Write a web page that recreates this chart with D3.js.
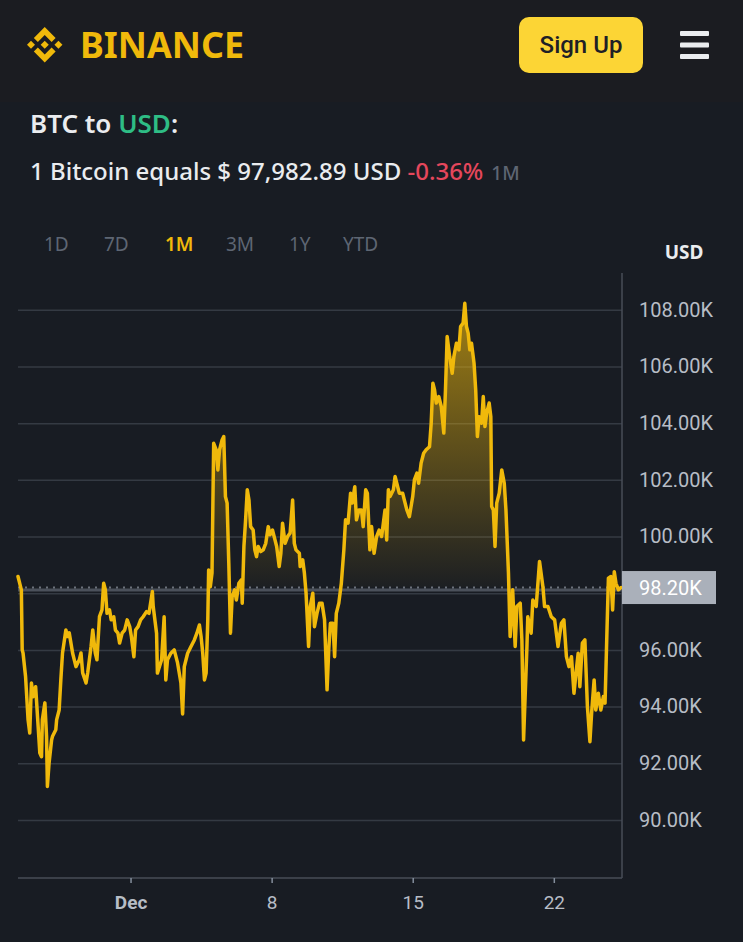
<!DOCTYPE html>
<html>
<head>
<meta charset="utf-8">
<script src="https://cdn.jsdelivr.net/npm/d3@7"></script>
<style>
  html, body { margin: 0; padding: 0; background: #181c23; }
  svg { display: block; }
</style>
</head>
<body>
<svg id="page" width="743" height="942"></svg>
<script>
// ---- data ----
var times = [
  "2024-11-25T10","2024-11-25T14","2024-11-25T15","2024-11-25T16","2024-11-25T19","2024-11-25T22",
  "2024-11-26T00","2024-11-26T02","2024-11-26T04","2024-11-26T07","2024-11-26T10","2024-11-26T12",
  "2024-11-26T14","2024-11-26T15","2024-11-26T18","2024-11-26T20","2024-11-26T21","2024-11-26T23",
  "2024-11-27T02","2024-11-27T03","2024-11-27T07","2024-11-27T08","2024-11-27T11","2024-11-27T13",
  "2024-11-27T15","2024-11-27T19","2024-11-27T21","2024-11-27T23","2024-11-28T03","2024-11-28T07",
  "2024-11-28T11","2024-11-28T13","2024-11-28T15","2024-11-28T19","2024-11-28T21","2024-11-29T01",
  "2024-11-29T03","2024-11-29T06","2024-11-29T08","2024-11-29T11","2024-11-29T14","2024-11-29T16",
  "2024-11-29T18","2024-11-29T20","2024-11-29T23","2024-11-30T01","2024-11-30T04","2024-11-30T06",
  "2024-11-30T09","2024-11-30T11","2024-11-30T14","2024-11-30T17","2024-11-30T20","2024-11-30T23",
  "2024-12-01T01","2024-12-01T04","2024-12-01T06","2024-12-01T09","2024-12-01T12","2024-12-01T15",
  "2024-12-01T19","2024-12-01T22","2024-12-02T02","2024-12-02T03","2024-12-02T07","2024-12-02T08",
  "2024-12-02T13","2024-12-02T16","2024-12-02T18","2024-12-02T20","2024-12-03T00","2024-12-03T04",
  "2024-12-03T08","2024-12-03T12","2024-12-03T14","2024-12-03T16","2024-12-03T20","2024-12-04T00",
  "2024-12-04T04","2024-12-04T07","2024-12-04T10","2024-12-04T12","2024-12-04T14","2024-12-04T16",
  "2024-12-04T18","2024-12-04T20","2024-12-04T21","2024-12-04T23","2024-12-05T01","2024-12-05T03",
  "2024-12-05T06","2024-12-05T08","2024-12-05T10","2024-12-05T13","2024-12-05T15","2024-12-05T17",
  "2024-12-05T19","2024-12-05T21","2024-12-05T23","2024-12-06T01","2024-12-06T04","2024-12-06T06",
  "2024-12-06T09","2024-12-06T12","2024-12-06T13","2024-12-06T15","2024-12-06T17","2024-12-06T19",
  "2024-12-06T21","2024-12-06T23","2024-12-07T02","2024-12-07T04","2024-12-07T06","2024-12-07T08",
  "2024-12-07T11","2024-12-07T14","2024-12-07T17","2024-12-07T20","2024-12-07T22","2024-12-08T01",
  "2024-12-08T04","2024-12-08T06","2024-12-08T09","2024-12-08T11","2024-12-08T13","2024-12-08T16",
  "2024-12-08T19","2024-12-08T22","2024-12-09T01","2024-12-09T03","2024-12-09T05","2024-12-09T09",
  "2024-12-09T10","2024-12-09T13","2024-12-09T15","2024-12-09T17","2024-12-09T20","2024-12-09T22",
  "2024-12-10T01","2024-12-10T03","2024-12-10T06","2024-12-10T09","2024-12-10T12","2024-12-10T15",
  "2024-12-10T18","2024-12-10T20","2024-12-10T22","2024-12-11T01","2024-12-11T03","2024-12-11T05",
  "2024-12-11T08","2024-12-11T11","2024-12-11T14","2024-12-11T16","2024-12-11T19","2024-12-11T22",
  "2024-12-12T00","2024-12-12T03","2024-12-12T05","2024-12-12T08","2024-12-12T11","2024-12-12T13",
  "2024-12-12T16","2024-12-12T18","2024-12-12T21","2024-12-12T23","2024-12-13T02","2024-12-13T05",
  "2024-12-13T08","2024-12-13T11","2024-12-13T13","2024-12-13T15","2024-12-13T17","2024-12-13T19",
  "2024-12-13T21","2024-12-14T01","2024-12-14T03","2024-12-14T05","2024-12-14T08","2024-12-14T12",
  "2024-12-14T14","2024-12-14T17","2024-12-14T20","2024-12-15T00","2024-12-15T02","2024-12-15T05",
  "2024-12-15T07","2024-12-15T10","2024-12-15T13","2024-12-15T16","2024-12-15T20","2024-12-15T22",
  "2024-12-16T00","2024-12-16T02","2024-12-16T04","2024-12-16T07","2024-12-16T10","2024-12-16T13",
  "2024-12-16T15","2024-12-16T17","2024-12-16T20","2024-12-16T23","2024-12-17T01","2024-12-17T04",
  "2024-12-17T07","2024-12-17T09","2024-12-17T12","2024-12-17T14","2024-12-17T16","2024-12-17T18",
  "2024-12-17T20","2024-12-17T22","2024-12-18T01","2024-12-18T03","2024-12-18T05","2024-12-18T07",
  "2024-12-18T10","2024-12-18T12","2024-12-18T14","2024-12-18T16","2024-12-18T19","2024-12-18T21",
  "2024-12-18T22","2024-12-19T00","2024-12-19T02","2024-12-19T04","2024-12-19T07","2024-12-19T10",
  "2024-12-19T13","2024-12-19T15","2024-12-19T18","2024-12-19T20","2024-12-19T23","2024-12-20T02",
  "2024-12-20T04","2024-12-20T08","2024-12-20T10","2024-12-20T12","2024-12-20T16","2024-12-20T17",
  "2024-12-20T21","2024-12-20T23","2024-12-21T03","2024-12-21T07","2024-12-21T11","2024-12-21T13",
  "2024-12-21T17","2024-12-21T21","2024-12-22T01","2024-12-22T05","2024-12-22T09","2024-12-22T12",
  "2024-12-22T15","2024-12-22T18","2024-12-22T21","2024-12-23T00","2024-12-23T02","2024-12-23T05",
  "2024-12-23T07","2024-12-23T10","2024-12-23T13","2024-12-23T16","2024-12-23T19","2024-12-23T21",
  "2024-12-24T00","2024-12-24T02","2024-12-24T05","2024-12-24T08","2024-12-24T11","2024-12-24T13",
  "2024-12-24T15","2024-12-24T17","2024-12-24T20","2024-12-24T22","2024-12-25T00","2024-12-25T02",
  "2024-12-25T05","2024-12-25T08"
];
var prices = [
  98590,98120,96000,95890,95060,93530,
  93070,94830,94350,94700,93290,92360,
  92230,93530,94130,92940,91180,92010,
  92820,92940,93180,93530,93880,94940,
  95890,96700,96470,96600,95890,95410,
  95650,95890,95190,94830,95190,96120,
  96700,95890,95650,97170,97410,98350,
  98120,97290,97410,97060,97170,96700,
  96590,96240,96590,96700,97060,96820,
  96470,95760,96700,96820,97060,97170,
  97350,97290,98060,97530,96590,95180,
  95650,97170,94940,95650,95880,96000,
  95540,94830,93740,95410,95880,96120,
  96350,96590,96880,96470,95880,94940,
  95180,97060,98820,98230,98710,103290,
  103060,102350,103060,103410,103530,101410,
  101180,99060,96590,97880,98120,97760,
  98350,98470,97650,99650,100590,101650,
  101290,100350,100230,99530,99290,99650,
  99470,99530,99760,100350,100060,100230,
  99880,99650,98940,99410,100470,99760,
  100000,100120,101290,99760,99530,99410,
  98940,99180,98710,98000,96120,97530,
  98000,96820,97290,97650,97650,97060,
  94590,96000,96940,96940,95760,97290,
  97650,98350,99530,100590,100470,101530,
  101180,101760,100590,100940,100940,100350,
  101650,101530,99530,100350,99410,100000,
  100230,100000,100470,100940,99880,101650,
  101410,101650,102120,101880,101530,101530,
  101290,100940,100700,101410,102000,102240,
  101880,102590,102940,103060,103170,104000,
  105410,105170,104710,104940,104590,103650,
  105170,107060,106350,105760,106350,106820,
  106590,107410,107530,108230,107410,107180,
  106590,106820,106120,105170,103530,104230,
  104000,104940,103880,104350,104710,104230,
  101060,100940,99650,101180,101530,102350,
  101880,100940,98710,96470,98120,96120,
  97530,97650,96350,92820,96120,97170,
  96590,97760,97530,99120,98230,97530,
  97530,97170,97060,96120,96940,97060,
  95760,95410,95760,94470,95060,95880,
  94700,96240,96350,94000,92760,93770,
  94940,93880,94470,93880,94350,94120,
  96350,98530,98590,97410,98760,98350,
  98120,98200
];
var currentPrice = 98200;
var yTicks = [90000, 92000, 94000, 96000, 98000, 100000, 102000, 104000, 106000, 108000];
var xTicks = ["2024-12-01", "2024-12-08", "2024-12-15", "2024-12-22"];
var ranges = ["1D", "7D", "1M", "3M", "1Y", "YTD"];
var activeRange = "1M";

// ---- setup ----
var svg = d3.select("#page");
var parseTime = d3.timeParse("%Y-%m-%dT%H");
var parseDay = d3.timeParse("%Y-%m-%d");
var data = times.map(function(t, i) {
  return { date: parseTime(t), price: prices[i] };
});

var plot = { left: 18, right: 622, top: 273, bottom: 878 };

var x = d3.scaleTime()
  .domain(d3.extent(data, function(d) { return d.date; }))
  .range([plot.left, plot.right - 1]);
var y = d3.scaleLinear()
  .domain([87950, 109300])
  .range([plot.bottom, plot.top]);

// header
svg.append("rect").attr("width", 743).attr("height", 102).attr("fill", "#1b1c21");

var logo = svg.append("g")
  .attr("transform", "translate(27,27) scale(0.28)")
  .attr("fill", "#f0b90b");
[
  "M38.73 53.2l24.59-24.58 24.6 24.6 14.3-14.31L63.32 0 24.42 38.9l14.31 14.3z",
  "M0 63.31l14.3-14.31 14.31 14.31-14.31 14.3z",
  "M38.73 73.41l24.59 24.59 24.6-24.6 14.31 14.29-38.9 38.91-38.91-38.88-.02-.02 14.33-14.29z",
  "M98 63.31l14.3-14.31 14.31 14.3-14.31 14.32z",
  "M77.83 63.3L63.32 48.78 52.59 59.51l-1.24 1.23-2.54 2.54-.02.02.02.03 14.51 14.5 14.51-14.52.01-.01-.01-.01z"
].forEach(function(p) { logo.append("path").attr("d", p); });

svg.append("text")
  .attr("x", 80).attr("y", 58)
  .attr("textLength", 164).attr("lengthAdjust", "spacingAndGlyphs")
  .style("font", "bold 36px 'Noto Sans', sans-serif")
  .attr("fill", "#f0b90b")
  .text("BINANCE");

svg.append("rect")
  .attr("x", 519).attr("y", 17).attr("width", 124).attr("height", 56)
  .attr("rx", 10).attr("fill", "#fcd535");
svg.append("text")
  .attr("x", 581).attr("y", 53).attr("text-anchor", "middle")
  .style("font", "500 24px Roboto, sans-serif")
  .attr("fill", "#1e2026")
  .text("Sign Up");

[0, 1, 2].forEach(function(i) {
  svg.append("rect")
    .attr("x", 680).attr("y", 31 + i * 11.5).attr("width", 29).attr("height", 5)
    .attr("rx", 1).attr("fill", "#eaecef");
});

// title
var title = svg.append("text")
  .attr("x", 30).attr("y", 133)
  .style("font", "600 26px 'Noto Sans', sans-serif")
  .attr("fill", "#eaecef");
title.append("tspan").text("BTC to ");
title.append("tspan").attr("fill", "#2ebd85").text("USD");
title.append("tspan").text(":");

var sub = svg.append("text")
  .attr("x", 30).attr("y", 180)
  .style("font", "500 24px 'Noto Sans', sans-serif")
  .attr("fill", "#eaecef");
sub.append("tspan").text("1 Bitcoin equals $ 97,982.89 USD ");
sub.append("tspan").attr("fill", "#e5475c").text("-0.36%");
sub.append("tspan").attr("fill", "#5e6673").style("font-size", "19px").attr("dx", 8).text("1M");

// range tabs
var tabX = [44, 104, 165, 226, 289, 343];
svg.selectAll(".tab")
  .data(ranges)
  .enter()
  .append("text")
  .attr("class", "tab")
  .attr("x", function(d, i) { return tabX[i]; })
  .attr("y", 251)
  .style("font", function(d) {
    return (d == activeRange ? "600 " : "400 ") + "19px 'Noto Sans', sans-serif";
  })
  .attr("fill", function(d) { return d == activeRange ? "#f0b90b" : "#5e6673"; })
  .text(function(d) { return d; });

svg.append("text")
  .attr("x", 684).attr("y", 259).attr("text-anchor", "middle")
  .style("font", "bold 19px 'Noto Sans', sans-serif")
  .attr("fill", "#eaecef")
  .text("USD");

// grid lines
var grid = svg.append("g")
  .attr("transform", "translate(" + plot.left + ",0)")
  .call(d3.axisLeft(y).tickValues(yTicks).tickSize(-(plot.right - plot.left)).tickFormat(""));
grid.select(".domain").remove();
grid.selectAll("line").attr("stroke", "#343a43").attr("stroke-width", 1.5);

// y axis labels (the one under the price tag is hidden, as in the app)
var yAxis = svg.append("g")
  .attr("transform", "translate(" + plot.right + ",0)")
  .call(d3.axisRight(y)
    .tickValues(yTicks.filter(function(v) { return Math.abs(v - currentPrice) > 1000; }))
    .tickSize(0).tickPadding(17)
    .tickFormat(function(d) { return (d / 1000).toFixed(2) + "K"; }));
yAxis.select(".domain").remove();
yAxis.selectAll("text")
  .style("font", "20px Roboto, sans-serif")
  .attr("fill", "#b7bdc6");

// frame: right edge and bottom axis
svg.append("line")
  .attr("x1", plot.right).attr("x2", plot.right)
  .attr("y1", plot.top).attr("y2", plot.bottom)
  .attr("stroke", "#474d57").attr("stroke-width", 1.5);

var xAxis = svg.append("g")
  .attr("transform", "translate(0," + plot.bottom + ")")
  .call(d3.axisBottom(x)
    .tickValues(xTicks.map(parseDay))
    .tickSize(5).tickSizeOuter(0).tickPadding(13)
    .tickFormat(function(d) { return d.getDate() == 1 ? "Dec" : d.getDate(); }));
xAxis.select(".domain")
  .attr("d", "M" + plot.left + ",0H" + plot.right)
  .attr("stroke", "#474d57").attr("stroke-width", 1.5);
xAxis.selectAll("line").attr("stroke", "#848e9c").attr("stroke-width", 1.5);
xAxis.selectAll("text")
  .style("font", function(d) {
    return (d.getDate() == 1 ? "bold " : "") + "19px Roboto, sans-serif";
  })
  .attr("fill", "#b7bdc6");

// area gradient
var defs = svg.append("defs");
var grad = defs.append("linearGradient")
  .attr("id", "fade")
  .attr("gradientUnits", "userSpaceOnUse")
  .attr("x1", 0).attr("x2", 0)
  .attr("y1", y(108500)).attr("y2", y(currentPrice));
grad.append("stop").attr("offset", 0).attr("stop-color", "#f0b90b").attr("stop-opacity", 0.65);
grad.append("stop").attr("offset", 1).attr("stop-color", "#f0b90b").attr("stop-opacity", 0.02);

defs.append("clipPath").attr("id", "above")
  .append("rect")
  .attr("x", plot.left).attr("y", plot.top)
  .attr("width", plot.right - plot.left)
  .attr("height", y(currentPrice) - plot.top);

var area = d3.area()
  .x(function(d) { return x(d.date); })
  .y0(y(currentPrice))
  .y1(function(d) { return y(d.price); });

svg.append("path")
  .datum(data)
  .attr("clip-path", "url(#above)")
  .attr("fill", "url(#fade)")
  .attr("d", area);

// current price reference line
svg.append("line")
  .attr("x1", plot.left).attr("x2", plot.right)
  .attr("y1", y(currentPrice) + 2.5).attr("y2", y(currentPrice) + 2.5)
  .attr("stroke", "#4b515b").attr("stroke-width", 3);
svg.append("line")
  .attr("x1", plot.left).attr("x2", plot.right)
  .attr("y1", y(currentPrice)).attr("y2", y(currentPrice))
  .attr("stroke", "#6b717b").attr("stroke-width", 2)
  .attr("stroke-dasharray", "2,5");

// price line
var line = d3.line()
  .x(function(d) { return x(d.date); })
  .y(function(d) { return y(d.price); });

svg.append("path")
  .datum(data)
  .attr("fill", "none")
  .attr("stroke", "#f0b90b")
  .attr("stroke-width", 3.5)
  .attr("stroke-linejoin", "round")
  .attr("stroke-linecap", "round")
  .attr("d", line);

// current price tag
svg.append("rect")
  .attr("x", plot.right).attr("y", y(currentPrice) - 16.5)
  .attr("width", 94).attr("height", 33)
  .attr("fill", "#aab0ba");
svg.append("text")
  .attr("x", plot.right + 17).attr("y", y(currentPrice)).attr("dy", "0.35em")
  .style("font", "20px Roboto, sans-serif")
  .attr("fill", "#ffffff")
  .text((currentPrice / 1000).toFixed(2) + "K");
</script>
</body>
</html>
